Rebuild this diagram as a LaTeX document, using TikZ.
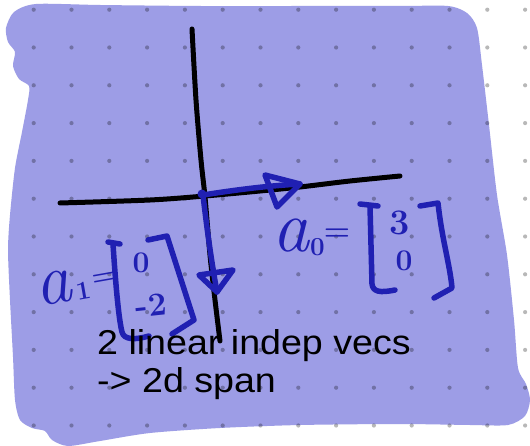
\documentclass[tikz,border=0pt]{standalone}
\usepackage{fontspec}
\newfontfamily\notefont{Liberation Sans}
\definecolor{blobfill}{RGB}{157,157,230}
\definecolor{ink}{RGB}{32,32,178}
\tikzset{
  axisline/.style={line width=5pt, line cap=round, line join=round, black},
  vecline/.style={line width=5.5pt, line cap=round, line join=round, ink},
  brk/.style={line width=5.5pt, line cap=round, line join=round, ink},
  inklabel/.style={text=ink, inner sep=0pt},
  entry/.style={text=ink, inner sep=0pt, font=\fontsize{36}{36}\selectfont\bfseries},
  note/.style={inner sep=0pt, font=\notefont\fontsize{34.5}{38}\selectfont, align=left},
  griddot/.style={fill=black, fill opacity=0.28},
}
\begin{document}
\begin{tikzpicture}[x=1pt,y=-1pt]
\fill[white] (0,0) rectangle (530,446);
\useasboundingbox (0,0) rectangle (530,446);
% background blob
\fill[blobfill] plot[smooth cycle, tension=0.45] coordinates {
 (36,4) (100,5) (200,6) (300,6) (400,6) (448,6) (467,13) (477,28)
 (482,65) (489,125) (497,195) (507,255) (514,320) (518,368) (526,384)
 (530,400) (525,416) (508,425) (470,425) (400,424) (300,425) (220,428)
 (150,433) (100,441) (68,446) (52,440) (45,431) (32,428) (20,420)
 (15,400) (13,357) (10,300) (8,250) (10,215) (15,168) (22,132) (28,100)
 (29,86) (19,79) (13,66) (15,52) (8,42) (6,28) (14,12)};
% dot grid
\foreach \i in {0,...,13}{\foreach \j in {0,...,11}{
  \fill[griddot] ({33.7+37.8*\i},{9.7+37.8*\j}) circle (2.1pt);}}
% axes
\draw[axisline] plot[smooth] coordinates {(192,29) (196,100) (201,160) (205,197) (210,255) (215,300) (220,341)};
\draw[axisline] plot[smooth] coordinates {(60,203) (150,200) (205,196) (260,191) (300,187) (350,181) (400,176)};
% vectors
\coordinate (O) at (203,195);
\coordinate (t0) at (300,184);
\coordinate (t1) at (217,292);
\draw[vecline] (O) .. controls (235,190) and (265,186) .. (t0);
\draw[vecline] (265,175) -- (t0) -- (277,207) -- cycle;
\draw[vecline] (O) .. controls (207,230) and (212,265) .. (t1);
\draw[vecline] (199,275) -- (t1) -- (233,270) -- cycle;
\fill[ink] (202,194) circle (4.5pt);
% label a0
\node[inklabel, anchor=base west] (a0name) at (272,252)
  {{\fontsize{74}{74}\selectfont\itshape a}\kern1pt\raisebox{-4pt}{\fontsize{26}{26}\selectfont\bfseries 0}\kern-1pt\raisebox{11pt}{\fontsize{30}{30}\selectfont\bfseries =}};
\node[entry] (a0x) at (400,223) {3};
\node[entry, font=\fontsize{30}{30}\selectfont\bfseries] (a0y) at (404,261) {0};
\draw[brk] (360,204) -- (378,206) (370,206) -- (372,284) .. controls (373,292) and (380,293) .. (395,290);
\draw[brk] (420,206) -- (438,203) .. controls (442,240) and (450,265) .. (452,288) -- (434,298);
% label a1
\node[inklabel, anchor=base west, rotate=10] (a1name) at (38,307)
  {{\fontsize{72}{72}\selectfont\itshape a}\kern4pt{\fontsize{26}{26}\selectfont\bfseries 1}\kern3pt\raisebox{11pt}{\fontsize{28}{28}\selectfont\bfseries =}};
\node[entry, font=\fontsize{30}{30}\selectfont\bfseries] (a1x) at (141,263) {0};
\node[entry, font=\fontsize{33}{33}\selectfont\bfseries, rotate=6] (a1y) at (151,305) {-2};
\draw[brk] (108,242) -- (120,244) (113,244) .. controls (116,290) and (119,320) .. (122,332) .. controls (124,340) and (135,340) .. (149,336);
\draw[brk] (148,240) -- (167,236) -- (194,320) -- (172,334);
% caption
\node[note, anchor=base west] (cap) at (97,392)
  {\scalebox{1.09}[1]{2 linear indep vecs}\\\scalebox{1.09}[1]{-> 2d span}};
\end{tikzpicture}
\end{document}
